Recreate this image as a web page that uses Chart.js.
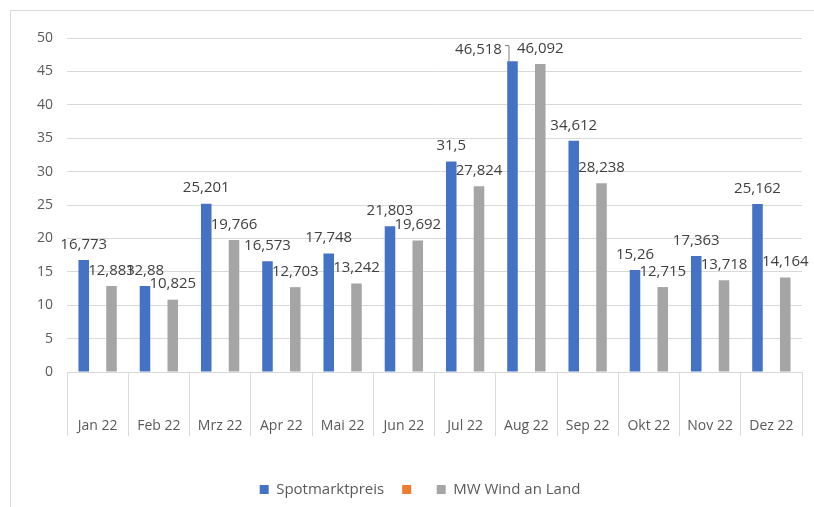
<!DOCTYPE html>
<html>
<head>
<meta charset="utf-8">
<script src="https://cdn.jsdelivr.net/npm/chart.js@4.4.1/dist/chart.umd.min.js"></script>
<style>
  body { margin: 0; background: #fff; }
  #frame { position: absolute; left: 10px; top: 10px; width: 830px; height: 520px; border: 1px solid #d9d9d9; }
  #wrap { position: absolute; left: 0; top: 0; width: 814px; height: 507px; }
</style>
</head>
<body>
<div id="frame"></div>
<div id="wrap"><canvas id="c"></canvas></div>
<script>
const months = ['Jan 22', 'Feb 22', 'Mrz 22', 'Apr 22', 'Mai 22', 'Jun 22', 'Jul 22', 'Aug 22', 'Sep 22', 'Okt 22', 'Nov 22', 'Dez 22'];
const spotmarkt = [16.773, 12.88, 25.201, 16.573, 17.748, 21.803, 31.5, 46.518, 34.612, 15.26, 17.363, 25.162];
const leer = [null, null, null, null, null, null, null, null, null, null, null, null];
const windLand = [12.883, 10.825, 19.766, 12.703, 13.242, 19.692, 27.824, 46.092, 28.238, 12.715, 13.718, 14.164];

const fontFam = '"Open Sans", "Noto Sans", sans-serif';
const fmt = v => v.toLocaleString('de-DE', { maximumFractionDigits: 3 });

// data labels above the bars; a blue label sitting at the same height as its gray neighbour
// gets pushed left with a leader line
const barLabels = {
    id: 'barLabels',
    afterDatasetsDraw(chart) {
        const ctx = chart.ctx;
        ctx.save();
        ctx.font = '15px ' + fontFam;
        ctx.fillStyle = '#404040';
        ctx.textAlign = 'center';
        ctx.textBaseline = 'bottom';
        const grayMeta = chart.getDatasetMeta(2);
        const blueMeta = chart.getDatasetMeta(0);
        const grayBoxes = [];
        grayMeta.data.forEach((bar, i) => {
            const txt = fmt(windLand[i]);
            const w = ctx.measureText(txt).width;
            const y = bar.y - 8;
            ctx.fillText(txt, bar.x, y);
            grayBoxes[i] = { l: bar.x - w / 2, y: y };
        });
        blueMeta.data.forEach((bar, i) => {
            const txt = fmt(spotmarkt[i]);
            const w = ctx.measureText(txt).width;
            let x = bar.x;
            let y = bar.y - 8;
            const g = grayBoxes[i];
            if (x + w / 2 > g.l && Math.abs(y - g.y) < 8) {
                x = g.l - 15 - w / 2;
                y = g.y + 1;
                ctx.fillText(txt, x, y);
                ctx.strokeStyle = '#7f7f7f';
                ctx.lineWidth = 1;
                ctx.beginPath();
                ctx.moveTo(x + w / 2 + 3, y - 11.5);
                ctx.lineTo(bar.x - 3.5, y - 11.5);
                ctx.lineTo(bar.x - 3.5, bar.y);
                ctx.stroke();
            } else {
                ctx.fillText(txt, x, y);
            }
        });
        ctx.restore();
    }
};

// move the legend a bit to the right, like in the original
const legendShift = {
    id: 'legendShift',
    afterLayout(chart) {
        chart.legend.left += 19;
        chart.legend.right += 19;
    }
};

new Chart(document.getElementById('c'), {
    type: 'bar',
    data: {
        labels: months,
        datasets: [{
            label: 'Spotmarktpreis',
            data: spotmarkt,
            backgroundColor: '#4472C4'
        }, {
            label: '',
            data: leer,
            backgroundColor: '#ED7D31'
        }, {
            label: 'MW Wind an Land',
            data: windLand,
            backgroundColor: '#A5A5A5'
        }]
    },
    options: {
        responsive: true,
        maintainAspectRatio: false,
        animation: false,
        layout: { padding: { left: 0, right: 12, top: 38, bottom: 0 } },
        datasets: { bar: { categoryPercentage: 0.68, barPercentage: 0.76 } },
        plugins: {
            legend: {
                position: 'bottom',
                labels: {
                    boxWidth: 9,
                    boxHeight: 9,
                    padding: 18,
                    color: '#595959',
                    font: { size: 15, family: fontFam }
                }
            },
            tooltip: { enabled: false }
        },
        scales: {
            x: {
                grid: { offset: true, drawOnChartArea: false, tickLength: 64, color: '#d9d9d9' },
                border: { color: '#d9d9d9' },
                ticks: { padding: -18, color: '#595959', font: { size: 14, family: fontFam } },
                afterFit: s => { s.height = 92; }
            },
            y: {
                min: 0,
                max: 50,
                ticks: { stepSize: 5, padding: 14, color: '#595959', font: { size: 14, family: fontFam } },
                grid: { color: '#d9d9d9', drawTicks: false },
                border: { display: false },
                afterFit: s => { s.width = 67; }
            }
        }
    },
    plugins: [barLabels, legendShift]
});
</script>
</body>
</html>
